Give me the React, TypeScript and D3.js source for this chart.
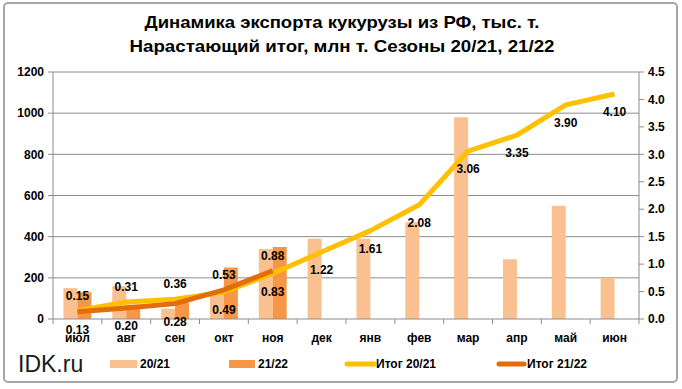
import React from 'react';
import * as d3 from 'd3';

const months = ['июл', 'авг', 'сен', 'окт', 'ноя', 'дек', 'янв', 'фев', 'мар', 'апр', 'май', 'июн'];
const series = ['20/21', '21/22'];
const monthly2021 = [150, 160, 50, 130, 340, 390, 390, 470, 980, 290, 550, 200];
const monthly2122 = [130, 70, 80, 250, 350];
const total2021 = [0.15, 0.31, 0.36, 0.49, 0.83, 1.22, 1.61, 2.08, 3.06, 3.35, 3.9, 4.1];
const total2122 = [0.13, 0.2, 0.28, 0.53, 0.88];
const leftTicks = [0, 200, 400, 600, 800, 1000, 1200];
const rightTicks = [0, 0.5, 1, 1.5, 2, 2.5, 3, 3.5, 4, 4.5];

const W = 682;
const H = 389;
const font = '"Liberation Sans", Arial, sans-serif';
const gridColor = '#8c8c8c';
const colors = {
  bar2021: '#FAC090',
  bar2122: '#F79646',
  line2021: '#FFC000',
  line2122: '#E46C0A',
};

const App = () => {
  const x = d3.scaleBand<string>().domain(months).range([53, 639]);
  const xSub = d3.scaleBand<string>().domain(series).range([0, x.bandwidth()]).paddingOuter(0.75);
  const yL = d3.scaleLinear().domain([0, 1200]).range([319, 72]);
  const yR = d3.scaleLinear().domain([0, 4.5]).range([319, 72]);
  const cx = (m: string) => (x(m) ?? 0) + x.bandwidth() / 2;

  const line = d3.line<number>()
    .x((_, i) => cx(months[i]))
    .y(d => yR(d));

  const boundaries = months.map(m => x(m) ?? 0).concat([639]);

  // label above if the series is higher than the other one at that month, otherwise below
  const labelY = (v: number, other: number | undefined) =>
    other !== undefined && v > other ? yR(v) - 15 : yR(v) + 18;

  return (
    <svg width={W} height={H} style={{ position: 'absolute', left: 0, top: 0 }} fontFamily={font}>
      <rect x={0} y={0} width={W} height={H} fill="#fff" />
      <rect x={4} y={3} width={673} height={379} rx={4} fill="#fff" stroke="#a6a6a6" strokeWidth={2} />

      <text x={342} y={28} textAnchor="middle" fontSize={17} fontWeight="bold" textLength={395} lengthAdjust="spacingAndGlyphs">
        Динамика экспорта кукурузы из РФ, тыс. т.
      </text>
      <text x={342} y={52} textAnchor="middle" fontSize={17} fontWeight="bold" textLength={425} lengthAdjust="spacingAndGlyphs">
        Нарастающий итог, млн т. Сезоны 20/21, 21/22
      </text>

      {/* gridlines */}
      {leftTicks.slice(1).map(t => (
        <line key={t} x1={53} x2={639} y1={yL(t)} y2={yL(t)} stroke={gridColor} strokeWidth={1} />
      ))}

      {/* bars */}
      {monthly2021.map((v, i) => (
        <rect key={'a' + i} x={(x(months[i]) ?? 0) + (xSub('20/21') ?? 0)} y={yL(v)}
          width={xSub.bandwidth()} height={yL(0) - yL(v)} fill={colors.bar2021} />
      ))}
      {monthly2122.map((v, i) => (
        <rect key={'b' + i} x={(x(months[i]) ?? 0) + (xSub('21/22') ?? 0)} y={yL(v)}
          width={xSub.bandwidth()} height={yL(0) - yL(v)} fill={colors.bar2122} />
      ))}

      {/* axes */}
      <line x1={53} x2={53} y1={72} y2={319} stroke={gridColor} />
      <line x1={639} x2={639} y1={72} y2={319} stroke={gridColor} />
      <line x1={53} x2={639} y1={319} y2={319} stroke={gridColor} />
      {leftTicks.map(t => (
        <g key={'l' + t}>
          <line x1={48} x2={53} y1={yL(t)} y2={yL(t)} stroke={gridColor} />
          <text x={44} y={yL(t)} dy="0.35em" textAnchor="end" fontSize={12} fontWeight="bold">{t}</text>
        </g>
      ))}
      {rightTicks.map(t => (
        <g key={'r' + t}>
          <line x1={639} x2={644} y1={yR(t)} y2={yR(t)} stroke={gridColor} />
          <text x={648} y={yR(t)} dy="0.35em" fontSize={12} fontWeight="bold">{d3.format('.1f')(t)}</text>
        </g>
      ))}
      {boundaries.map((b, i) => (
        <line key={'t' + i} x1={b} x2={b} y1={319} y2={324} stroke={gridColor} />
      ))}
      {months.map(m => (
        <text key={m} x={cx(m)} y={338} dy="0.35em" textAnchor="middle" fontSize={12} fontWeight="bold">{m}</text>
      ))}

      {/* lines */}
      <path d={line(total2021) ?? ''} fill="none" stroke={colors.line2021} strokeWidth={5} strokeLinejoin="round" />
      <path d={line(total2122) ?? ''} fill="none" stroke={colors.line2122} strokeWidth={5} strokeLinejoin="round" />

      {/* data labels */}
      {total2021.map((v, i) => (
        <text key={'la' + i} x={cx(months[i])} y={labelY(v, total2122[i])} dy="0.35em" textAnchor="middle" fontSize={12} fontWeight="bold">
          {d3.format('.2f')(v)}
        </text>
      ))}
      {total2122.map((v, i) => (
        <text key={'lb' + i} x={cx(months[i])} y={labelY(v, total2021[i])} dy="0.35em" textAnchor="middle" fontSize={12} fontWeight="bold">
          {d3.format('.2f')(v)}
        </text>
      ))}

      {/* legend */}
      <text x={18} y={364} dy="0.35em" fontSize={23} fill="#1a1a1a">IDK.ru</text>
      <rect x={110} y={360} width={27} height={8} fill={colors.bar2021} />
      <text x={140} y={364} dy="0.35em" fontSize={12} fontWeight="bold">20/21</text>
      <rect x={229} y={360} width={26} height={8} fill={colors.bar2122} />
      <text x={258} y={364} dy="0.35em" fontSize={12} fontWeight="bold">21/22</text>
      <line x1={347} x2={374} y1={364} y2={364} stroke={colors.line2021} strokeWidth={5} strokeLinecap="round" />
      <text x={376} y={364} dy="0.35em" fontSize={12} fontWeight="bold">Итог 20/21</text>
      <line x1={499} x2={524} y1={364} y2={364} stroke={colors.line2122} strokeWidth={5} strokeLinecap="round" />
      <text x={527} y={364} dy="0.35em" fontSize={12} fontWeight="bold">Итог 21/22</text>
    </svg>
  );
};

export default App;
